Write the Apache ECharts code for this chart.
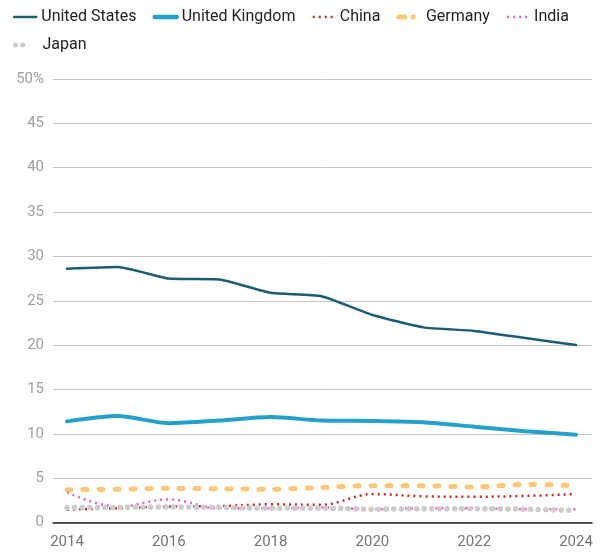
<!DOCTYPE html>
<html><head><meta charset="utf-8">
<script src="https://cdn.jsdelivr.net/npm/echarts@6/dist/echarts.min.js"></script>
<style>html,body{margin:0;padding:0;background:#fff}#c{width:609px;height:560px}</style>
</head><body><div id="c"></div>
<script>
const years = [2014,2015,2016,2017,2018,2019,2020,2021,2022,2023,2024];
const xTickLabels = [2014,2016,2018,2020,2022,2024];
const yTicks = [0,5,10,15,20,25,30,35,40,45,50];
const unitedStates = [28.6,28.8,27.5,27.4,25.9,25.5,23.4,22.0,21.6,20.8,20.0];
const unitedKingdom = [11.4,12.0,11.2,11.5,11.9,11.5,11.45,11.3,10.8,10.3,9.9];
const china = [1.45,1.6,1.8,1.85,2.05,2.0,3.2,2.95,2.9,3.0,3.2];
const germany = [3.7,3.75,3.85,3.8,3.75,3.95,4.15,4.15,4.0,4.3,4.15];
const india = [3.4,1.8,2.6,1.6,1.6,1.7,1.5,1.6,1.6,1.5,1.5];
const japan = [1.7,1.7,1.75,1.7,1.6,1.6,1.5,1.55,1.55,1.5,1.35];

const pair = arr => years.map((y,i)=>[y,arr[i]]);
const font = 'Roboto';
const styles = {
  'United States': {color:'#1c5c75', width:2.5, type:'solid', cap:'round', smooth:0.15},
  'United Kingdom': {color:'#24a0cb', width:4, type:'solid', cap:'round', smooth:0.25},
  'China': {color:'#c62a2a', width:2.5, type:[2,4], cap:'butt', smooth:0.35},
  'Germany': {color:'#fcc676', width:5, type:[4,12], cap:'round', smooth:0.3},
  'India': {color:'#f15fbd', width:2.5, type:[2,4], cap:'butt', smooth:0.4},
  'Japan': {color:'#cccccc', width:5.5, type:[0.1,7.5], cap:'round', smooth:0.3}
};
const mk = (name, data) => {
  const s = styles[name];
  return {
    name, type:'line', data: pair(data), symbol:'none', smooth: s.smooth,
    lineStyle:{color:s.color, width:s.width, type:s.type, cap:s.cap}, itemStyle:{color:s.color},
    emphasis:{disabled:true}
  };
};
const legItem = name => {
  const s = styles[name];
  const lw = name==='United Kingdom' ? 4.5 : (name==='Germany' ? 5 : (name==='Japan' ? 5 : 2.5));
  let type = s.type;
  if (name==='Japan') type = [0.1,7,0.1,40];
  if (name==='Germany') type = [6,8,0.5,30];
  if (name==='China' || name==='India') type = [2,4];
  return {name, lineStyle:{color:s.color, width:lw, type, cap:s.cap}, itemStyle:{opacity:0}};
};
const legendBase = {
  itemGap:16, itemWidth:22, itemHeight:10,
  itemStyle:{opacity:0},
  textStyle:{fontFamily:font, fontSize:16, color:'#222'}
};
const chart = echarts.init(document.getElementById('c'));
chart.setOption({
  animation:false,
  textStyle:{fontFamily:font},
  legend:[
    Object.assign({left:8, top:4, data:['United States','United Kingdom','China','Germany','India'].map(legItem)}, legendBase),
    Object.assign({left:8, top:32, data:['Japan'].map(legItem)}, legendBase)
  ],
  grid:{left:53, right:17, top:79, bottom:37.5},
  xAxis:{
    type:'value', min:2013.725, max:2024.314,
    axisLine:{show:true, onZero:false, lineStyle:{color:'#222', width:1.5}},
    axisTick:{show:false},
    splitLine:{show:false},
    axisLabel:{customValues:xTickLabels, color:'#757575', fontSize:15, fontFamily:font, margin:12,
      formatter:v=>String(v)}
  },
  yAxis:{
    type:'value', min:0, max:50, interval:5,
    axisLine:{show:false}, axisTick:{show:false},
    splitLine:{lineStyle:{color:'#c4c4c4', width:1}},
    axisLabel:{color:'#9e9e9e', fontSize:15, fontFamily:font, margin:9,
      formatter:v=> v===50 ? '50%' : String(v)}
  },
  series:[
    mk('United States', unitedStates),
    mk('United Kingdom', unitedKingdom),
    mk('China', china),
    mk('Germany', germany),
    mk('India', india),
    mk('Japan', japan)
  ]
});
</script></body></html>
